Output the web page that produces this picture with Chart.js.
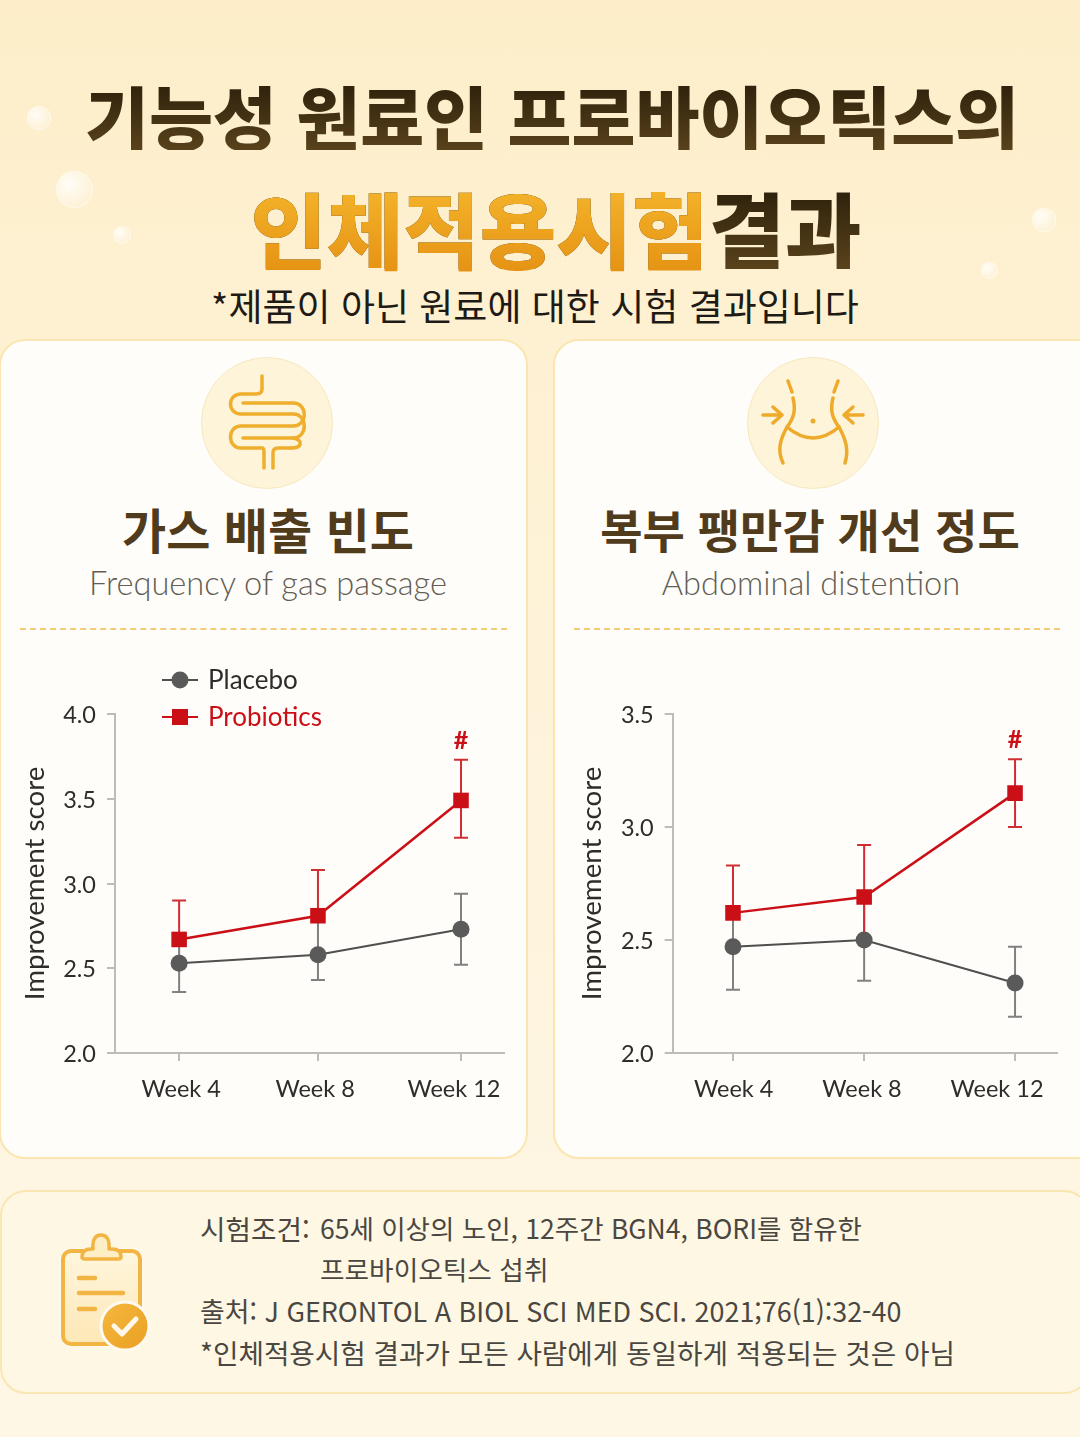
<!DOCTYPE html>
<html lang="ko">
<head>
<meta charset="utf-8">
<title>프로바이오틱스 인체적용시험 결과</title>
<script src="https://cdn.jsdelivr.net/npm/chart.js@4"></script>
<style>
  * { box-sizing: border-box; }
  html, body { margin: 0; padding: 0; }
  body {
    position: relative; width: 1080px; height: 1437px; overflow: hidden;
    background: linear-gradient(180deg, #fdeec9 0%, #fef1d2 22%, #fef4dd 60%, #fef7e6 100%);
    font-family: "Noto Sans CJK KR", sans-serif;
  }
  .txt { position: absolute; white-space: nowrap; line-height: 1; }
  .center { transform: translateX(-50%); }
  .bubble {
    position: absolute; border-radius: 50%; border: 1px solid rgba(255,255,255,.45);
    background: radial-gradient(circle at 35% 35%, rgba(255,255,255,.85), rgba(255,255,255,.2) 70%);
  }
  .title {
    font-weight: 900; font-size: 69.5px; color: #3d2c11;
    background: linear-gradient(180deg, #2c200b, #59421c);
    -webkit-background-clip: text; background-clip: text; -webkit-text-fill-color: transparent;
  }
  .title-2 { font-size: 83px; }
  .accent { background: linear-gradient(180deg, #f7bb2f, #e38d10); -webkit-background-clip: text; background-clip: text; }
  .card {
    position: absolute; top: 339px; height: 820px; background: #fefdf9;
    border: 2px solid #fbe6b2; border-radius: 26px;
  }
  .badge {
    position: absolute; top: 357px; width: 132px; height: 132px; border-radius: 50%;
    background: #fdf4da; border: 1px solid #f8e8bf;
  }
  .heading { font-weight: 700; font-size: 48px; color: #503b1c; }
  .sub { font-family: Lato, sans-serif; font-weight: 300; font-size: 32.6px; color: #625d55; }
  .rule { position: absolute; top: 628px; height: 0; border-top: 2px dashed #f3cc75; }
  .note {
    position: absolute; left: 0; top: 1190px; width: 1090px; height: 204px;
    background: #fef7e3; border: 2px solid #fae6b2; border-radius: 26px;
  }
  .foot { color: #4a4742; }
  canvas { position: absolute; }
  svg { position: absolute; left: 0; top: 0; }
</style>
</head>
<body>
  <div class="bubble" style="left:27px;top:106px;width:24px;height:24px"></div>
  <div class="bubble" style="left:56px;top:171px;width:37px;height:37px"></div>
  <div class="bubble" style="left:113px;top:226px;width:18px;height:18px"></div>
  <div class="bubble" style="left:1032px;top:208px;width:24px;height:24px"></div>
  <div class="bubble" style="left:981px;top:262px;width:17px;height:17px"></div>

  <div class="txt center title" style="left:552px;top:80px">기능성 원료인 프로바이오틱스의</div>
  <div class="txt center title title-2" style="left:556px;top:186px"><span class="accent">인체적용시험</span>결과</div>
  <div class="txt center" style="left:535px;top:287px;font-size:37px;color:#1e1b16">*제품이 아닌 원료에 대한 시험 결과입니다</div>

  <div class="card" style="left:-1px;width:529px"></div>
  <div class="card" style="left:553px;width:560px"></div>

  <div class="badge" style="left:201px"></div>
  <div class="badge" style="left:747px"></div>

  <div class="txt center heading" style="left:268px;top:504px">가스 배출 빈도</div>
  <div class="txt center sub" style="left:268px;top:567px">Frequency of gas passage</div>
  <div class="rule" style="left:20px;width:487px"></div>

  <div class="txt center heading" style="left:810px;top:505px;font-size:46px">복부 팽만감 개선 정도</div>
  <div class="txt center sub" style="left:811px;top:567px">Abdominal distention</div>
  <div class="rule" style="left:574px;width:486px"></div>

  <canvas id="gasChart" width="527" height="470" style="left:0;top:650px"></canvas>
  <canvas id="bloatChart" width="530" height="470" style="left:550px;top:650px"></canvas>

  <div class="note"></div>
  <div class="txt foot" style="left:200px;top:1215px;font-size:27.7px">시험조건:</div>
  <div class="txt foot" style="left:320px;top:1215px;font-size:26.5px">65세 이상의 노인, 12주간 BGN4, BORI를 함유한</div>
  <div class="txt foot" style="left:320px;top:1256px;font-size:26.7px">프로바이오틱스 섭취</div>
  <div class="txt foot" style="left:200px;top:1298px;font-size:26.9px">출처: J GERONTOL A BIOL SCI MED SCI. 2021;76(1):32-40</div>
  <div class="txt foot" style="left:200px;top:1339px;font-size:27.7px">*인체적용시험 결과가 모든 사람에게 동일하게 적용되는 것은 아님</div>

  <!-- icons -->
  <svg width="1080" height="1437" viewBox="0 0 1080 1437" fill="none">
    <defs>
      <linearGradient id="checkFill" x1="0" y1="0" x2="1" y2="1">
        <stop offset="0" stop-color="#f6b93f"/><stop offset="1" stop-color="#e99f22"/>
      </linearGradient>
      <linearGradient id="sheetFill" x1="0" y1="0" x2="0" y2="1">
        <stop offset="0" stop-color="#fff6dd"/><stop offset="1" stop-color="#fde8b6"/>
      </linearGradient>
    </defs>
    <!-- intestine -->
    <g stroke="#efae2e" stroke-width="3.5" stroke-linecap="round" stroke-linejoin="round">
      <path d="M262 376V389Q262 394 256 394H241C227 394 227 414 241 414H293C308 414 308 438 293 438H243"/>
      <path d="M243 403H293C308 403 308 426 293 426H241C227 426 227 448 241 448H262Q264 448 264 452V468"/>
      <path d="M291 448H278Q273 448 273 453V468"/>
      <path d="M293 438C304 440 302 448 291 448"/>
    </g>
    <!-- waist -->
    <g stroke="#eeaa2a" stroke-width="3.5" stroke-linecap="round" stroke-linejoin="round">
      <path d="M788 381L792 392M793 398C796 410 794 418 787 427C780 440 777 450 783 463"/>
      <path d="M838 381L834 392M833 398C830 410 832 418 839 427C846 440 849 450 845 463"/>
      <path d="M787 427Q813 449 839 427"/>
      <path d="M763 415H782M773 407L782 415L773 423"/>
      <path d="M863 415H844M853 407L844 415L853 423"/>
    </g>
    <circle cx="813" cy="421" r="2.5" fill="#eeaa2a"/>
    <!-- clipboard -->
    <rect x="60" y="1248" width="83" height="99" rx="10" fill="#fffaf0"/>
    <rect x="63" y="1251" width="77" height="93" rx="8" fill="url(#sheetFill)" stroke="#f2b544" stroke-width="4"/>
    <path d="M82 1257Q82 1249 91 1249H93Q92 1235 101 1235Q110 1235 109 1249H112Q121 1249 121 1257Q121 1259 118 1259H85Q82 1259 82 1257Z"
          fill="#fdeec6" stroke="#f2b544" stroke-width="3.5" stroke-linejoin="round"/>
    <g stroke="#f2b544" stroke-width="4.5" stroke-linecap="round">
      <path d="M79 1278H95M79 1293H123M79 1309H95"/>
    </g>
    <circle cx="125" cy="1326" r="24" fill="url(#checkFill)" stroke="#fffaf0" stroke-width="3"/>
    <path d="M114 1326L122 1334L136 1319" stroke="#fff8ea" stroke-width="5" stroke-linecap="round" stroke-linejoin="round"/>
  </svg>

<script>
// ------- Data -------
const weekLabels = ['Week 4', 'Week 8', 'Week 12'];

// Gas passage panel
const gasWeekPos = [4, 7.94, 12];
const gasLabelPos = [4.06, 7.86, 11.8];
const gasPlacebo = [2.53, 2.58, 2.73];
const gasPlaceboLow = [2.36, 2.43, 2.52];
const gasPlaceboHigh = [2.66, 2.81, 2.94];
const gasProbiotics = [2.67, 2.81, 3.49];
const gasProbioticsLow = [2.67, 2.81, 3.27];
const gasProbioticsHigh = [2.9, 3.08, 3.73];
const gasYTicks = [2.0, 2.5, 3.0, 3.5, 4.0];

// Abdominal distention panel
const bloatWeekPos = [4, 7.72, 12];
const bloatLabelPos = [4.02, 7.66, 11.49];
const bloatPlacebo = [2.47, 2.5, 2.31];
const bloatPlaceboLow = [2.28, 2.32, 2.16];
const bloatPlaceboHigh = [2.62, 2.69, 2.47];
const bloatProbiotics = [2.62, 2.69, 3.15];
const bloatProbioticsLow = [2.62, 2.5, 3.0];
const bloatProbioticsHigh = [2.83, 2.92, 3.3];
const bloatYTicks = [2.0, 2.5, 3.0, 3.5];

const GRAY = '#5a5a5a';
const RED = '#cb0f17';
const AXIS = '#bcbcb8';
const FONT = 'Lato, sans-serif';

// ------- Plugins -------
// error bars sit behind the lines and markers
const errorBars = {
  id: 'errorBars',
  beforeDatasetsDraw(chart) {
    const { ctx, scales: { x, y } } = chart;
    chart.data.datasets.forEach(ds => {
      ds.errLow.forEach((low, i) => {
        const px = x.getPixelForValue(ds.data[i].x);
        const top = y.getPixelForValue(ds.errHigh[i]);
        const bot = y.getPixelForValue(low);
        ctx.save();
        ctx.strokeStyle = ds.errColor;
        ctx.lineWidth = 2;
        ctx.beginPath();
        ctx.moveTo(px, top);
        ctx.lineTo(px, bot);
        if (ds.errHigh[i] > ds.data[i].y) { ctx.moveTo(px - 7, top); ctx.lineTo(px + 7, top); }
        if (low < ds.data[i].y && ds.capLow[i]) { ctx.moveTo(px - 7, bot); ctx.lineTo(px + 7, bot); }
        ctx.stroke();
        ctx.restore();
      });
    });
  }
};

// significance mark above the last probiotics error bar
const hashMark = {
  id: 'hashMark',
  afterDatasetsDraw(chart) {
    const { ctx, scales: { x, y } } = chart;
    const ds = chart.data.datasets.find(d => d.label === 'Probiotics');
    const last = ds.data.length - 1;
    ctx.save();
    ctx.fillStyle = RED;
    ctx.font = '700 25px ' + FONT;
    ctx.textAlign = 'center';
    ctx.textBaseline = 'alphabetic';
    ctx.fillText('#', x.getPixelForValue(ds.data[last].x), y.getPixelForValue(ds.errHigh[last]) - 11);
    ctx.restore();
  }
};

// two-row key, only on the first panel
const keyBox = {
  id: 'keyBox',
  afterDraw(chart, args, opts) {
    if (!opts.show) return;
    const { ctx } = chart;
    chart.data.datasets.forEach((ds, i) => {
      const rowY = 30 + i * 37;
      ctx.save();
      ctx.strokeStyle = ds.borderColor;
      ctx.fillStyle = ds.pointBackgroundColor;
      ctx.lineWidth = 2;
      ctx.beginPath();
      ctx.moveTo(162, rowY);
      ctx.lineTo(198, rowY);
      ctx.stroke();
      ctx.beginPath();
      if (ds.pointStyle === 'rect') ctx.rect(172, rowY - 8, 16, 16);
      else ctx.arc(180, rowY, 8.5, 0, Math.PI * 2);
      ctx.fill();
      ctx.font = '26px ' + FONT;
      ctx.fillStyle = ds.keyColor;
      ctx.textAlign = 'left';
      ctx.textBaseline = 'middle';
      ctx.fillText(ds.label, 208, rowY + 1);
      ctx.restore();
    });
  }
};

// ------- Charts -------
function toPoints(pos, values) {
  return values.map((v, i) => ({ x: pos[i], y: v }));
}

function buildChart(id, cfg) {
  new Chart(document.getElementById(id), {
    type: 'line',
    data: {
      datasets: [
        {
          label: 'Placebo', data: toPoints(cfg.weekPos, cfg.placebo), order: 2,
          borderColor: '#4f4f4f', borderWidth: 2, pointStyle: 'circle', pointRadius: 8.5,
          pointBackgroundColor: GRAY, pointBorderColor: GRAY, pointBorderWidth: 0,
          errLow: cfg.placeboLow, errHigh: cfg.placeboHigh, errColor: '#808080', keyColor: '#2d2d2b',
          capLow: [true, true, true]
        },
        {
          label: 'Probiotics', data: toPoints(cfg.weekPos, cfg.probiotics), order: 1,
          borderColor: RED, borderWidth: 2.5, pointStyle: 'rect', pointRadius: 11,
          pointBackgroundColor: RED, pointBorderColor: RED, pointBorderWidth: 0,
          errLow: cfg.probioticsLow, errHigh: cfg.probioticsHigh, errColor: '#cf2e34', keyColor: RED,
          capLow: cfg.probioticsCapLow
        }
      ]
    },
    options: {
      responsive: false,
      animation: false,
      events: [],
      layout: { padding: { top: 64, right: cfg.padRight, left: 0, bottom: 0 } },
      plugins: { legend: { display: false }, tooltip: { enabled: false }, keyBox: { show: cfg.showKey } },
      scales: {
        x: {
          type: 'linear', position: 'bottom', min: cfg.xMin, max: cfg.xMax,
          afterBuildTicks: s => { s.ticks = cfg.weekPos.map(v => ({ value: v })); },
          afterFit: s => { s.height = 9; },
          border: { color: AXIS, width: 2 },
          grid: { drawOnChartArea: false, color: AXIS, lineWidth: 2, tickLength: 8 },
          ticks: { display: false }
        },
        weekNames: {
          type: 'linear', position: 'bottom', min: cfg.xMin, max: cfg.xMax,
          afterBuildTicks: s => { s.ticks = cfg.labelPos.map(v => ({ value: v })); },
          afterFit: s => { s.height = 58; },
          border: { display: false },
          grid: { display: false },
          ticks: {
            autoSkip: false, maxRotation: 0, padding: 5, color: '#2d2d2b',
            font: { family: FONT, size: 23.5 },
            callback: (v, i) => weekLabels[i]
          }
        },
        y: {
          min: 2, max: cfg.yMax,
          afterBuildTicks: s => { s.ticks = cfg.yTicks.map(v => ({ value: v })); },
          afterFit: s => { s.width = cfg.axisLeft; },
          border: { color: AXIS, width: 2 },
          grid: { drawOnChartArea: false, color: AXIS, lineWidth: 2, tickLength: 8 },
          ticks: {
            padding: 11, color: '#2d2d2b', labelOffset: 1.5,
            font: { family: FONT, size: 23.5 },
            callback: v => v.toFixed(1)
          },
          title: {
            display: true, text: 'Improvement score', color: '#2d2d2b',
            font: { family: FONT, size: 27.7 },
            padding: { top: cfg.titleGap, bottom: 0 }
          }
        }
      }
    },
    plugins: [errorBars, hashMark, keyBox]
  });
}

buildChart('gasChart', {
  weekPos: gasWeekPos, labelPos: gasLabelPos,
  placebo: gasPlacebo, placeboLow: gasPlaceboLow, placeboHigh: gasPlaceboHigh,
  probiotics: gasProbiotics, probioticsLow: gasProbioticsLow, probioticsHigh: gasProbioticsHigh,
  probioticsCapLow: [false, false, true],
  yTicks: gasYTicks, yMax: 4, xMin: 2.18, xMax: 13.22,
  axisLeft: 115, padRight: 23, titleGap: 18, showKey: true
});

buildChart('bloatChart', {
  weekPos: bloatWeekPos, labelPos: bloatLabelPos,
  placebo: bloatPlacebo, placeboLow: bloatPlaceboLow, placeboHigh: bloatPlaceboHigh,
  probiotics: bloatProbiotics, probioticsLow: bloatProbioticsLow, probioticsHigh: bloatProbioticsHigh,
  probioticsCapLow: [false, false, true],
  yTicks: bloatYTicks, yMax: 3.5, xMin: 2.29, xMax: 13.19,
  axisLeft: 122.7, padRight: 23, titleGap: 25, showKey: false
});
</script>
</body>
</html>
